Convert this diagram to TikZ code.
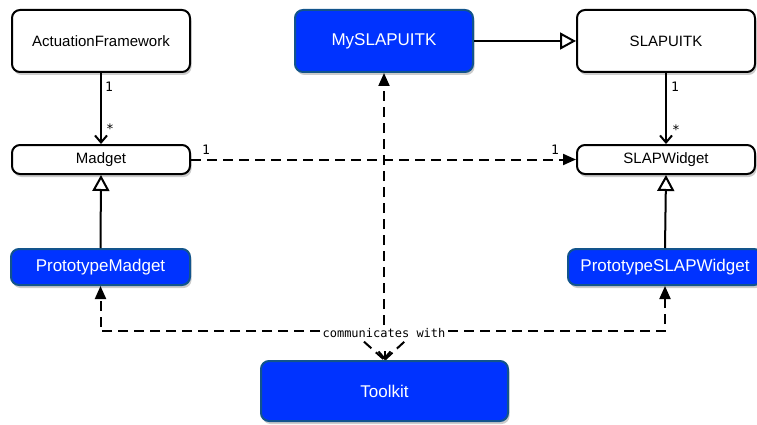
\documentclass[tikz,border=0pt]{standalone}
\usepackage{fontspec}
\setmainfont{Liberation Sans}
\newfontfamily\monofont{DejaVu Sans Mono}
\usetikzlibrary{arrows.meta,shadows}
\definecolor{bfill}{RGB}{0,51,255}
\definecolor{bdraw}{RGB}{18,84,140}
\begin{document}
\begin{tikzpicture}[x=1pt,y=-1pt,
  cls/.style={rounded corners=8pt, draw=black, line width=2pt, fill=white,
    font=\fontsize{15}{18}\selectfont, inner sep=0pt,
    drop shadow={opacity=0.4, shadow xshift=1.5pt, shadow yshift=-3pt}},
  bcls/.style={cls, draw=bdraw, fill=bfill, text=white, font=\fontsize{17}{20}\selectfont},
  conn/.style={line width=2pt, draw=black},
  assoc/.style={conn, -{Straight Barb[length=7pt,width=12pt,line width=2pt]}},
  gen/.style={conn, -{Triangle[open,length=16pt,width=17pt,fill=white,line width=2pt]}},
  dashedline/.style={conn, dash pattern=on 10pt off 6pt},
  dep/.style={dashedline, -{Triangle[length=13pt,width=11pt]}},
  mult/.style={font=\monofont\fontsize{13}{15}\selectfont, inner sep=0pt},
]
\useasboundingbox (0,0) rectangle (757,425);

% classes
\node[cls, minimum width=178pt, minimum height=62pt] (af) at (101,41) {ActuationFramework};
\node[bcls, minimum width=178pt, minimum height=62pt] (my) at (384,41) {MySLAPUITK};
\node[cls, minimum width=178pt, minimum height=62pt] (sl) at (666,41) {SLAPUITK};
\node[cls, minimum width=178pt, minimum height=29pt] (md) at (101,159.5) {Madget};
\node[cls, minimum width=178pt, minimum height=29pt] (sw) at (666,159.5) {SLAPWidget};
\node[bcls, minimum width=179pt, minimum height=36pt] (pm) at (100.5,267) {PrototypeMadget};
\node[bcls, minimum width=194pt, minimum height=36pt] (ps) at (665,267) {PrototypeSLAPWidget};
\node[bcls, minimum width=247pt, minimum height=60pt] (tk) at (384.5,391) {Toolkit};

% associations
\draw[assoc] (af.south) -- (md.north);
\node[mult] at (109,87) {1};
\node[mult] at (110,129) {*};
\draw[assoc] (sl.south) -- (sw.north);
\node[mult] at (675,87) {1};
\node[mult] at (676,130) {*};

% generalizations
\draw[gen] (my.east) -- (sl.west);
\draw[gen] (pm.north) -- (md.south);
\draw[gen] (ps.north) -- (sw.south);

% dependency Madget -> SLAPWidget
\draw[dep] (md.east) -- (sw.west);
\node[mult] at (206,150) {1};
\node[mult] at (555,150) {1};

% communicates with
\coordinate (top) at (384,325);
\coordinate (jl) at (352,331);
\coordinate (jr) at (416,331);
\coordinate (tip) at (384.5,351);
\draw[dep] (top) -- (my.south);
\draw[dep] (jl) -| (pm.south);
\draw[dep] (jr) -| (ps.south);
\draw[dashedline] (jl) -- (tk.north);
\draw[dashedline] (jr) -- (tk.north);
\draw[assoc] (tip) -- (tk.north);
\node[fill=white, inner sep=1pt, font=\monofont\fontsize{12}{14}\selectfont] (lbl) at (384,333) {communicates with};
\end{tikzpicture}
\end{document}
